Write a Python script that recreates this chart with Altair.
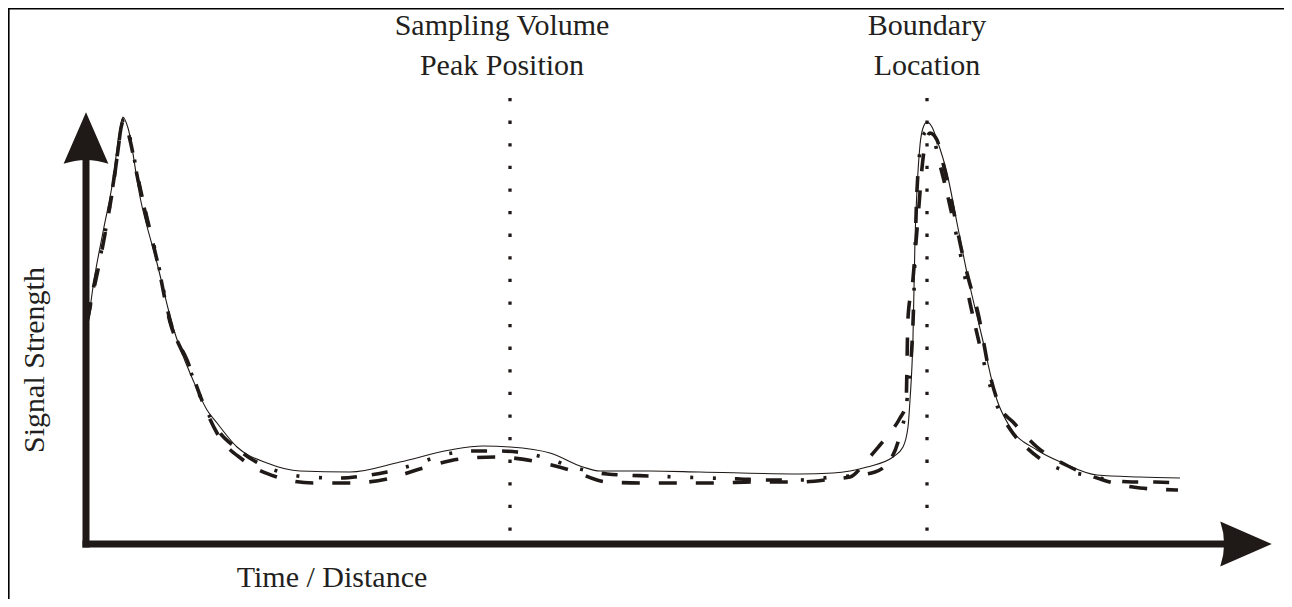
import altair as alt
import pandas as pd

# ---- data (time / distance units from the axis origin, signal units above the time axis)
solid_t = [2, 7, 17, 27, 33, 37, 42, 54, 71, 87, 107, 121, 131, 151, 181, 214, 264, 314, 364, 397,
           424, 464, 497, 514, 564, 614, 714, 747, 781, 807, 817, 822, 824, 827, 829, 831, 834, 837,
           841, 846, 851, 861, 871, 881, 896, 911, 924, 951, 977, 1011, 1054, 1094]
solid_s = [219, 257, 312, 364, 409, 427, 416, 347, 281, 217, 164, 134, 121, 97, 81, 73, 72, 82, 94, 98,
           97, 91, 77, 73, 73, 72, 70, 71, 77, 87, 97, 117, 144, 207, 304, 354, 399, 416,
           422, 417, 404, 371, 321, 271, 207, 144, 117, 94, 81, 69, 67, 66]

dashed_t = [1, 7, 14, 21, 27, 32, 35, 38, 44, 52, 61, 71, 84, 101, 117, 131, 157, 191, 227, 264,
            301, 337, 374, 411, 447, 484, 521, 557, 594, 627, 671, 714, 747, 764, 781, 794, 804, 814,
            820, 822, 827, 830, 833, 836, 839, 844, 851, 857, 866, 874, 882, 892, 904, 914, 927,
            951, 984, 1017, 1054, 1092]
dashed_s = [222, 251, 284, 321, 357, 394, 416, 424, 404, 364, 324, 284, 222, 184, 141, 111, 84, 67, 61, 61,
            65, 76, 85, 87, 83, 74, 62, 61, 61, 61, 62, 62, 65, 67, 84, 99, 111, 126,
            139, 226, 265, 302, 339, 376, 399, 411, 404, 381, 341, 301, 267, 231, 169, 137, 122,
            97, 77, 64, 56, 54]

dashdot_t = [2, 7, 14, 21, 27, 32, 35, 38, 44, 52, 61, 71, 84, 101, 117, 134, 149, 167, 191, 221,
             254, 277, 301, 327, 361, 387, 411, 431, 457, 487, 521, 564, 594, 624, 654, 681, 714,
             747, 764, 789, 806, 814, 821, 827, 831, 836, 840, 846, 854, 861, 866, 876, 884, 889,
             907, 926, 941, 959, 1004, 1046, 1069, 1092]
dashdot_s = [226, 254, 286, 322, 359, 394, 416, 425, 406, 366, 326, 286, 224, 182, 141, 111, 97, 84, 73, 67,
             66, 68, 72, 79, 90, 93, 93, 92, 87, 77, 70, 68, 67, 66, 65, 64, 64,
             67, 68, 72, 87, 109, 144, 221, 354, 404, 412, 409, 379, 351, 329, 282, 241, 219,
             149, 112, 96, 82, 68, 62, 62, 61]

marker_t = [424, 841]            # Sampling volume peak position, boundary location
marker_top = [446, 446]
marker_bottom = [12, 12]

label_text = ["Sampling Volume", "Peak Position", "Boundary", "Location", "Time / Distance"]
label_t = [416, 416, 841, 841, 246]
label_s = [509, 469, 509, 469, -43]

ylabel_text = ["Signal Strength"]
ylabel_t = [-42]
ylabel_s = [184]

axis_len_t = 1139
axis_len_s = 384
head_t = [0, 1160]
head_s = [406, 0]
head_angle = [0, 90]

X_DOMAIN = [-78, 1198]
Y_DOMAIN = [-55, 536]
W, H = 1276, 591
INK = "#1f1a17"
FONT = "Liberation Serif"
FSIZE = 30

xs = alt.Scale(domain=X_DOMAIN, nice=False, zero=False)
ys = alt.Scale(domain=Y_DOMAIN, nice=False, zero=False)


def X(f):
    return alt.X(f, type="quantitative", scale=xs, axis=None)


def Y(f):
    return alt.Y(f, type="quantitative", scale=ys, axis=None)


solid = alt.Chart(pd.DataFrame({"t": solid_t, "s": solid_s})).mark_line(
    interpolate="monotone", color=INK, strokeWidth=1.1
).encode(x=X("t"), y=Y("s"))

dashed = alt.Chart(pd.DataFrame({"t": dashed_t, "s": dashed_s})).mark_line(
    interpolate="monotone", color=INK, strokeWidth=3.6, strokeDash=[18, 19], strokeCap="butt"
).encode(x=X("t"), y=Y("s"))

dashdot = alt.Chart(pd.DataFrame({"t": dashdot_t, "s": dashdot_s})).mark_line(
    interpolate="monotone", color=INK, strokeWidth=3.6,
    strokeDash=[16, 15, 16, 19, 3, 19.7, 3, 19.7, 3, 19], strokeCap="butt"
).encode(x=X("t"), y=Y("s"))

markers = alt.Chart(pd.DataFrame({"t": marker_t, "a": marker_top, "b": marker_bottom})).mark_rule(
    color=INK, strokeWidth=3.3, strokeDash=[3.3, 19.3], strokeCap="butt"
).encode(x=X("t"), y=Y("a"), y2="b")

v_axis = alt.Chart(pd.DataFrame({"t": [0], "a": [-3.5], "b": [axis_len_s]})).mark_rule(
    color=INK, strokeWidth=7, strokeCap="butt"
).encode(x=X("t"), y=Y("a"), y2="b")

h_axis = alt.Chart(pd.DataFrame({"s": [0], "a": [-3.5], "b": [axis_len_t]})).mark_rule(
    color=INK, strokeWidth=7, strokeCap="butt"
).encode(y=Y("s"), x=X("a"), x2="b")

ARROW = "M0,-1L0.87,1Q0,0.7,-0.87,1Z"
heads = alt.Chart(pd.DataFrame({"t": head_t, "s": head_s, "ang": head_angle})).mark_point(
    shape=ARROW, size=2650, filled=True, opacity=1, color=INK, strokeWidth=0
).encode(x=X("t"), y=Y("s"), angle=alt.Angle("ang:Q", scale=None))

labels = alt.Chart(pd.DataFrame({"txt": label_text, "t": label_t, "s": label_s})).mark_text(
    font=FONT, fontSize=FSIZE, color="#231f20", align="center", baseline="alphabetic"
).encode(x=X("t"), y=Y("s"), text="txt:N")

ylabel = alt.Chart(pd.DataFrame({"txt": ylabel_text, "t": ylabel_t, "s": ylabel_s})).mark_text(
    font=FONT, fontSize=FSIZE, color="#231f20", align="center", baseline="alphabetic", angle=270
).encode(x=X("t"), y=Y("s"), text="txt:N")

border_top = alt.Chart(pd.DataFrame({"s": [Y_DOMAIN[1] - 0.5], "a": [X_DOMAIN[0]], "b": [X_DOMAIN[1]]})).mark_rule(
    color="black", strokeWidth=2.2
).encode(y=Y("s"), x=X("a"), x2="b")

border_left = alt.Chart(pd.DataFrame({"t": [X_DOMAIN[0] + 0.5], "a": [Y_DOMAIN[0]], "b": [Y_DOMAIN[1]]})).mark_rule(
    color="black", strokeWidth=2.2
).encode(x=X("t"), y=Y("a"), y2="b")

chart = alt.layer(
    markers, solid, dashdot, dashed, v_axis, h_axis, heads, labels, ylabel, border_top, border_left
).properties(
    width=W, height=H, padding=0, background="white",
    autosize=alt.AutoSizeParams(type="none"),
    view=alt.ViewBackground(stroke="white", strokeWidth=0, strokeOpacity=0)
).configure_view(stroke="white", strokeWidth=0, strokeOpacity=0).configure_text(font=FONT)

chart.save("out.html", embed_options={"renderer": "svg", "actions": False})
